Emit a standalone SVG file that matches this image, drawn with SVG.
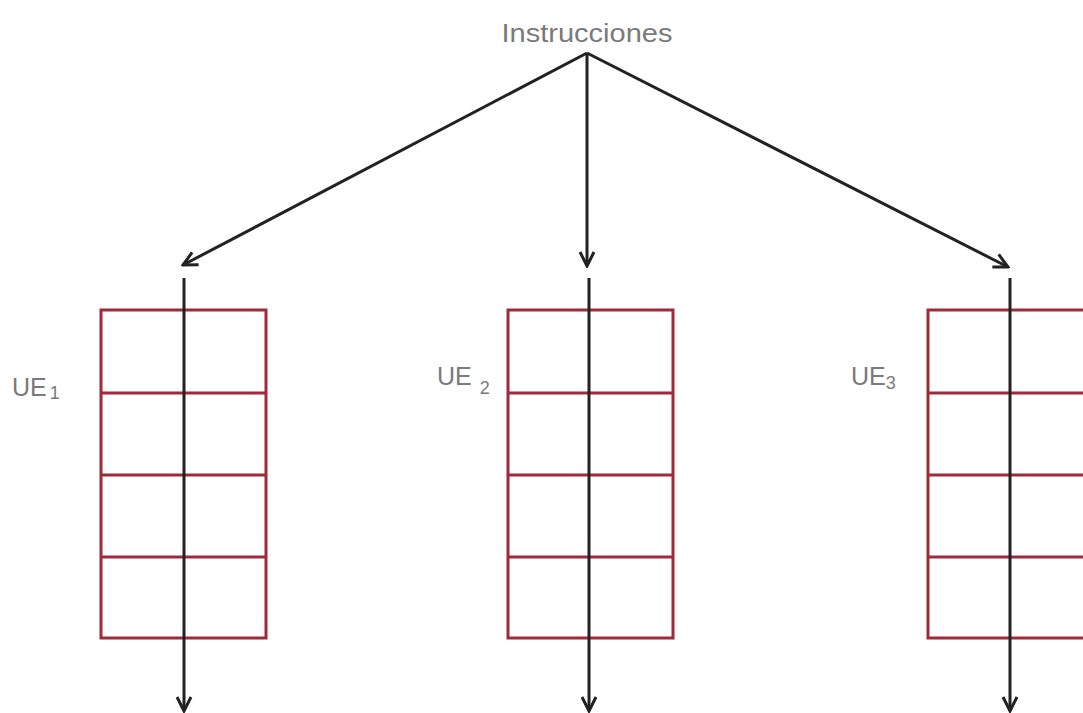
<svg xmlns="http://www.w3.org/2000/svg" width="1083" height="713" viewBox="0 0 1083 713">
<defs>
<style>
.lbl{font-family:"Liberation Sans",Arial,sans-serif;fill:#7a7a7a;font-size:25px}
.sub{font-size:18px}
.grid{fill:none;stroke:#9e2a3a;stroke-width:3}
.con{fill:none;stroke:#222;stroke-width:3}
</style>
<marker id="ah2" viewBox="0 0 20 20" refX="18" refY="10" markerWidth="20" markerHeight="20" markerUnits="userSpaceOnUse" orient="auto">
<path d="M4,3 L18,10 L4,17" fill="none" stroke="#222" stroke-width="3"/>
</marker>
</defs>
<rect width="1083" height="713" fill="#fff"/>
<text id="instr" class="lbl" x="587" y="42" text-anchor="middle" font-size="26" textLength="171" lengthAdjust="spacingAndGlyphs">Instrucciones</text>
<g id="ue1">
<rect class="grid" x="101" y="310" width="165" height="328"/>
<path class="grid" d="M101,393H266M101,475H266M101,557H266"/>
<text class="lbl" x="12" y="396">UE<tspan class="sub" dx="3" dy="3">1</tspan></text>
</g>
<g id="ue2">
<rect class="grid" x="508" y="310" width="165" height="328"/>
<path class="grid" d="M508,393H673M508,475H673M508,557H673"/>
<text class="lbl" x="437" y="385">UE<tspan class="sub" dx="8" dy="9">2</tspan></text>
</g>
<g id="ue3">
<rect class="grid" x="928" y="310" width="165" height="328"/>
<path class="grid" d="M928,393H1093M928,475H1093M928,557H1093"/>
<text class="lbl" x="851" y="385">UE<tspan class="sub" dx="0" dy="4">3</tspan></text>
</g>
<g id="connectors">
<path class="con" d="M587,53 L183,265" marker-end="url(#ah2)"/>
<path class="con" d="M587,53 L587,266" marker-end="url(#ah2)"/>
<path class="con" d="M587,53 L1008,267" marker-end="url(#ah2)"/>
<path class="con" d="M184,278 L184,711" marker-end="url(#ah2)"/>
<path class="con" d="M589,278 L589,711" marker-end="url(#ah2)"/>
<path class="con" d="M1010,278 L1010,711" marker-end="url(#ah2)"/>
</g>
</svg>
